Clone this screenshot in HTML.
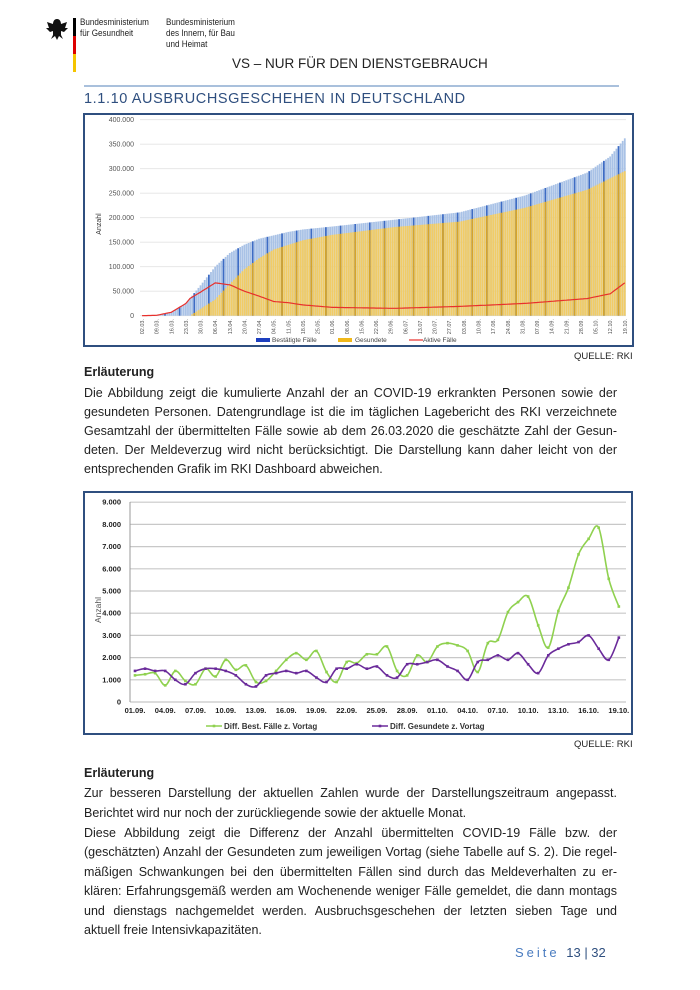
<!DOCTYPE html>
<html><head><meta charset="utf-8">
<style>
body{margin:0;background:#fff;width:700px;height:990px;position:relative;overflow:hidden;font-family:"Liberation Sans",sans-serif;color:#222}
.a{position:absolute;white-space:nowrap}
.ln{position:absolute;left:84px;width:533px;font-size:12.5px;line-height:16px;white-space:nowrap;text-align:justify;text-align-last:justify}
.ln.l{text-align-last:left}
.b{font-weight:bold}
</style></head><body>
<svg class="a" style="left:44px;top:16px" width="26" height="26" viewBox="0 0 26 26"><path d="M13 3 C10 3 9 6 9 8 L3 6 L5 12 L2 12 L6 16 L9 15 L9 19 L7 23 L11 20 L13 24 L15 20 L19 23 L17 19 L17 15 L20 16 L24 12 L21 12 L23 6 L17 8 C17 6 16 3 13 3Z" fill="#111"/></svg>
<div class="a" style="left:73px;top:18px;width:3px;height:18px;background:#000"></div>
<div class="a" style="left:73px;top:36px;width:3px;height:18px;background:#d00"></div>
<div class="a" style="left:73px;top:54px;width:3px;height:18px;background:#f5c400"></div>
<div class="a" style="left:80px;top:17px;font-size:9px;line-height:11px;transform:scaleX(0.9);transform-origin:left">Bundesministerium<br>für Gesundheit</div>
<div class="a" style="left:166px;top:17px;font-size:9px;line-height:11px;transform:scaleX(0.9);transform-origin:left">Bundesministerium<br>des Innern, für Bau<br>und Heimat</div>
<div class="a" style="left:232px;top:56px;font-size:13.5px">VS – NUR FÜR DEN DIENSTGEBRAUCH</div>
<div class="a" style="left:84px;top:85px;width:535px;height:2px;background:#a9c0dc"></div>
<div class="a" style="left:84px;top:91px;font-size:14.5px;color:#2f4f7f;letter-spacing:0.6px">1.1.10 AUSBRUCHSGESCHEHEN IN DEUTSCHLAND</div>

<svg id="c1" class="a" style="left:0;top:0" width="700" height="990"></svg>

<div class="a" style="left:574px;top:351px;font-size:9.5px">QUELLE: RKI</div>
<div class="ln l b" style="top:364px">Erläuterung</div>
<div class="ln" style="top:385px">Die Abbildung zeigt die kumulierte Anzahl der an COVID-19 erkrankten Personen sowie der</div>
<div class="ln" style="top:404px">gesundeten Personen. Datengrundlage ist die im täglichen Lagebericht des RKI verzeichnete</div>
<div class="ln" style="top:423px">Gesamtzahl der übermittelten Fälle sowie ab dem 26.03.2020 die geschätzte Zahl der Gesun-</div>
<div class="ln" style="top:442px">deten. Der Meldeverzug wird nicht berücksichtigt. Die Darstellung kann daher leicht von der</div>
<div class="ln l" style="top:461px">entsprechenden Grafik im RKI Dashboard abweichen.</div>

<div class="a" style="left:574px;top:739px;font-size:9.5px">QUELLE: RKI</div>
<div class="ln l b" style="top:765px">Erläuterung</div>
<div class="ln" style="top:785px">Zur besseren Darstellung der aktuellen Zahlen wurde der Darstellungszeitraum angepasst.</div>
<div class="ln l" style="top:805px">Berichtet wird nur noch der zurückliegende sowie der aktuelle Monat.</div>
<div class="ln" style="top:825px">Diese Abbildung zeigt die Differenz der Anzahl übermittelten COVID-19 Fälle bzw. der</div>
<div class="ln" style="top:844px">(geschätzten) Anzahl der Gesundeten zum jeweiligen Vortag (siehe Tabelle auf S. 2). Die regel-</div>
<div class="ln" style="top:864px">mäßigen Schwankungen bei den übermittelten Fällen sind durch das Meldeverhalten zu er-</div>
<div class="ln" style="top:883px">klären: Erfahrungsgemäß werden am Wochenende weniger Fälle gemeldet, die dann montags</div>
<div class="ln" style="top:903px">und dienstags nachgemeldet werden. Ausbruchsgeschehen der letzten sieben Tage und</div>
<div class="ln l" style="top:922px">aktuell freie Intensivkapazitäten.</div>
<div class="a" style="left:515px;top:945px;font-size:13px;color:#4a7cc0;letter-spacing:3px">Seite <span style="letter-spacing:0;color:#2f4f7f">13 | 32</span></div>

<script>
const s=document.getElementById('c1');let h='';
h+='<rect x="84" y="114" width="549" height="232" fill="none" stroke="#2f4f7f" stroke-width="2"/>';
const y1=v=>315.7-v*49/100000, x1=d=>142+d*2.09;
for(let i=0;i<=8;i++){const v=i*50000,y=y1(v);h+=`<line x1="140" x2="626" y1="${y}" y2="${y}" stroke="#e4e4e4" stroke-width="0.8"/><text x="134" y="${y+2.5}" font-size="7" fill="#555" text-anchor="end">${i?(v/1000)+'.000':'0'}</text>`;}
const C=[[0,0],[7,800],[14,7000],[21,25000],[28,62000],[35,100000],[42,128000],[49,145000],[56,157000],[63,164000],[70,171000],[77,176000],[91,182000],[121,196000],[152,211000],[183,245000],[213,292000],[224,325000],[231,362000]];
const R=[[0,0],[23,0],[28,14000],[35,33000],[42,65000],[49,95000],[56,117000],[63,135000],[77,154000],[91,165000],[121,181000],[152,192000],[183,220000],[213,257000],[231,295000]];
const ip=(P,d)=>{for(let i=1;i<P.length;i++)if(d<=P[i][0]){const a=P[i-1],b=P[i];return a[1]+(b[1]-a[1])*(d-a[0])/(b[0]-a[0]);}return P[P.length-1][1];};
let red='';
for(let d=0;d<=231;d++){const c=ip(C,d),r=ip(R,d),x=x1(d);
 h+=`<rect x="${x-0.9}" y="${y1(c)}" width="1.8" height="${315.7-y1(c)}" fill="${d%7==4?'#3d6cc4':'#a9c2e6'}"/>`;
 h+=`<rect x="${x-0.9}" y="${y1(r)}" width="1.8" height="${315.7-y1(r)}" fill="${d%7==4?'#d6a52a':'#f1cc66'}"/>`;
 red+=(d?'L':'M')+x.toFixed(1)+' '+y1(c-r).toFixed(1);}
h+=`<path d="${red}" fill="none" stroke="#e8302c" stroke-width="1.2"/>`;
let dd=2,mm=3;for(let d=0;d<=231;d+=7){const lab=String(dd).padStart(2,'0')+'.'+String(mm).padStart(2,'0')+'.';const x=x1(d);
 h+=`<text transform="translate(${x+2},319) rotate(-90)" font-size="5.5" fill="#555" text-anchor="end">${lab}</text>`;
 dd+=7;const ml=[0,0,0,31,30,31,30,31,31,30,31][mm];if(dd>ml){dd-=ml;mm++;}}
h+='<text transform="translate(101,224) rotate(-90)" font-size="7" fill="#333" text-anchor="middle">Anzahl</text>';
h+='<rect x="256" y="338" width="14" height="4" fill="#1d3fbf"/><text x="272" y="342" font-size="6.5" fill="#444">Bestätigte Fälle</text>';
h+='<rect x="338" y="338" width="14" height="4" fill="#f0b81a"/><text x="355" y="342" font-size="6.5" fill="#444">Gesundete</text>';
h+='<line x1="409" x2="423" y1="340" y2="340" stroke="#e8302c" stroke-width="1.2"/><text x="423" y="342" font-size="6.5" fill="#444">Aktive Fälle</text>';
h+='<rect x="84" y="492" width="548" height="242" fill="none" stroke="#2f4f7f" stroke-width="2"/>';
const y2=v=>702-v*22.2/1000,x2=i=>135+i*10.08;
for(let i=0;i<=9;i++){const y=y2(i*1000);h+=`<line x1="130" x2="626" y1="${y}" y2="${y}" stroke="#c8c8c8" stroke-width="1.2"/><text x="121" y="${y+2.5}" font-size="7.5" fill="#222" text-anchor="end" font-weight="bold">${i?i+'.000':'0'}</text>`;}
h+='<line x1="130" x2="130" y1="502" y2="702" stroke="#999"/>';
h+='<text transform="translate(101,610) rotate(-90)" font-size="8.5" fill="#555" text-anchor="middle">Anzahl</text>';
const labs=['01.09.','04.09.','07.09.','10.09.','13.09.','16.09.','19.09.','22.09.','25.09.','28.09.','01.10.','04.10.','07.10.','10.10.','13.10.','16.10.','19.10.'];
labs.forEach((l,k)=>{h+=`<text x="${x2(k*3)}" y="713" font-size="7.5" fill="#222" text-anchor="middle" font-weight="bold">${l}</text>`;});
const G=[1200,1250,1300,750,1400,950,800,1500,1150,1900,1450,1650,900,950,1400,1900,2200,1900,2300,1350,900,1800,1750,2150,2150,2500,1400,1200,2100,1800,2500,2650,2550,2300,1350,2650,2800,4050,4500,4750,3450,2450,4100,5150,6650,7350,7850,5550,4300];
const P=[1400,1500,1400,1400,1000,800,1300,1500,1500,1400,1200,800,700,1200,1300,1400,1300,1400,1100,900,1500,1500,1700,1500,1600,1200,1100,1700,1700,1800,1900,1600,1400,1000,1800,1900,2100,1900,2200,1700,1300,2100,2400,2600,2700,3000,2400,1900,2900];
function smooth(D){const p=D.map((v,i)=>[x2(i),y2(v)]);let d='M'+p[0];for(let i=0;i<p.length-1;i++){const a=p[i-1]||p[i],b=p[i],c=p[i+1],e=p[i+2]||c;const c1=[b[0]+(c[0]-a[0])/6,b[1]+(c[1]-a[1])/6],c2=[c[0]-(e[0]-b[0])/6,c[1]-(e[1]-b[1])/6];d+=`C${c1} ${c2} ${c}`;}return d;}
h+=`<path d="${smooth(G)}" fill="none" stroke="#8fd14f" stroke-width="1.6"/>`;
h+=`<path d="${smooth(P)}" fill="none" stroke="#6a2a9a" stroke-width="1.6"/>`;
G.forEach((v,i)=>h+=`<rect x="${x2(i)-1.3}" y="${y2(v)-1.3}" width="2.6" height="2.6" fill="#8fd14f"/>`);
P.forEach((v,i)=>h+=`<rect x="${x2(i)-1.3}" y="${y2(v)-1.3}" width="2.6" height="2.6" fill="#6a2a9a"/>`);
h+='<line x1="206" x2="222" y1="726" y2="726" stroke="#8fd14f" stroke-width="1.5"/><rect x="212.7" y="724.7" width="2.6" height="2.6" fill="#8fd14f"/><text x="224" y="729" font-size="8" fill="#333" font-weight="bold">Diff. Best. Fälle z. Vortag</text>';
h+='<line x1="372" x2="388" y1="726" y2="726" stroke="#6a2a9a" stroke-width="1.5"/><rect x="378.7" y="724.7" width="2.6" height="2.6" fill="#6a2a9a"/><text x="390" y="729" font-size="8" fill="#333" font-weight="bold">Diff. Gesundete z. Vortag</text>';
s.innerHTML=h;
</script>
</body></html>
